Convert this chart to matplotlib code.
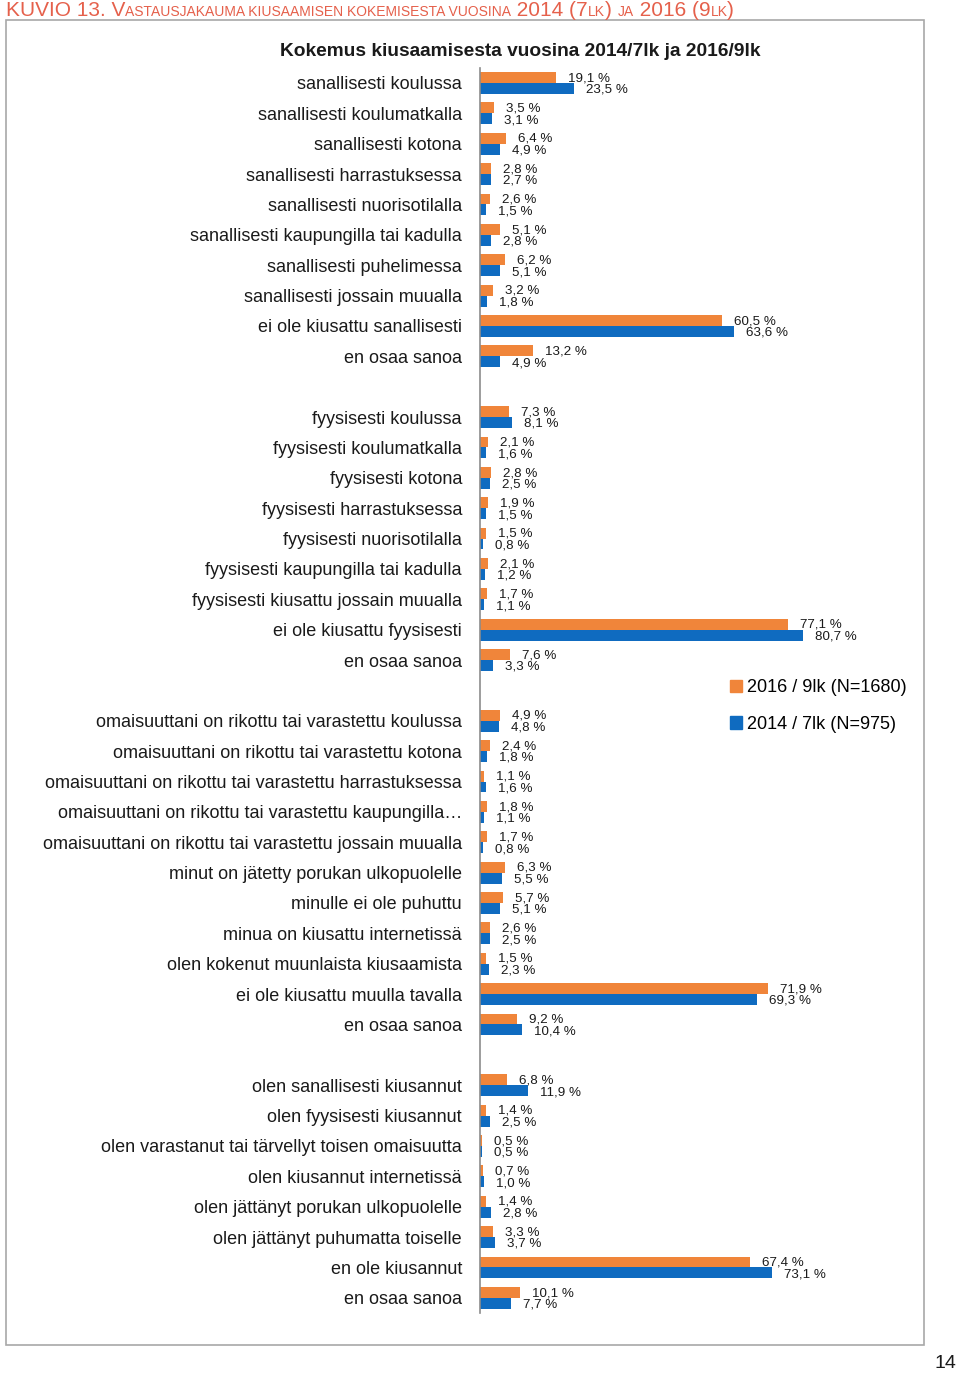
import matplotlib
matplotlib.use('Agg')
import matplotlib.pyplot as plt
from matplotlib.patches import Rectangle, Patch

plt.rcParams['font.family'] = ['Liberation Sans', 'DejaVu Sans']

# ---------------- data ----------------
cats_sanallinen = ["sanallisesti koulussa", "sanallisesti koulumatkalla", "sanallisesti kotona",
                   "sanallisesti harrastuksessa", "sanallisesti nuorisotilalla",
                   "sanallisesti kaupungilla tai kadulla", "sanallisesti puhelimessa",
                   "sanallisesti jossain muualla", "ei ole kiusattu sanallisesti", "en osaa sanoa"]
v2016_sanallinen = [19.1, 3.5, 6.4, 2.8, 2.6, 5.1, 6.2, 3.2, 60.5, 13.2]
v2014_sanallinen = [23.5, 3.1, 4.9, 2.7, 1.5, 2.8, 5.1, 1.8, 63.6, 4.9]

cats_fyysinen = ["fyysisesti koulussa", "fyysisesti koulumatkalla", "fyysisesti kotona",
                 "fyysisesti harrastuksessa", "fyysisesti nuorisotilalla",
                 "fyysisesti kaupungilla tai kadulla", "fyysisesti kiusattu jossain muualla",
                 "ei ole kiusattu fyysisesti", "en osaa sanoa"]
v2016_fyysinen = [7.3, 2.1, 2.8, 1.9, 1.5, 2.1, 1.7, 77.1, 7.6]
v2014_fyysinen = [8.1, 1.6, 2.5, 1.5, 0.8, 1.2, 1.1, 80.7, 3.3]

cats_muu = ["omaisuuttani on rikottu tai varastettu koulussa",
            "omaisuuttani on rikottu tai varastettu kotona",
            "omaisuuttani on rikottu tai varastettu harrastuksessa",
            "omaisuuttani on rikottu tai varastettu kaupungilla…",
            "omaisuuttani on rikottu tai varastettu jossain muualla",
            "minut on jätetty porukan ulkopuolelle", "minulle ei ole puhuttu",
            "minua on kiusattu internetissä", "olen kokenut muunlaista kiusaamista",
            "ei ole kiusattu muulla tavalla", "en osaa sanoa"]
v2016_muu = [4.9, 2.4, 1.1, 1.8, 1.7, 6.3, 5.7, 2.6, 1.5, 71.9, 9.2]
v2014_muu = [4.8, 1.8, 1.6, 1.1, 0.8, 5.5, 5.1, 2.5, 2.3, 69.3, 10.4]

cats_kiusaaja = ["olen sanallisesti kiusannut", "olen fyysisesti kiusannut",
                 "olen varastanut tai tärvellyt toisen omaisuutta", "olen kiusannut internetissä",
                 "olen jättänyt porukan ulkopuolelle", "olen jättänyt puhumatta toiselle",
                 "en ole kiusannut", "en osaa sanoa"]
v2016_kiusaaja = [6.8, 1.4, 0.5, 0.7, 1.4, 3.3, 67.4, 10.1]
v2014_kiusaaja = [11.9, 2.5, 0.5, 1.0, 2.8, 3.7, 73.1, 7.7]

series_labels = ["2016 / 9lk (N=1680)", "2014 / 7lk (N=975)"]
chart_title = "Kokemus kiusaamisesta vuosina 2014/7lk ja 2016/9lk"

groups = [(cats_sanallinen, v2016_sanallinen, v2014_sanallinen),
          (cats_fyysinen, v2016_fyysinen, v2014_fyysinen),
          (cats_muu, v2016_muu, v2014_muu),
          (cats_kiusaaja, v2016_kiusaaja, v2014_kiusaaja)]

ORANGE = '#F0853A'
BLUE = '#0F6BC0'
TXT = '#1a1a1a'

W, H = 960, 1373
fig = plt.figure(figsize=(W / 100, H / 100), dpi=100)

# outer frame
fig.patches.append(Rectangle((6 / W, 1 - 1345 / H), (924 - 6) / W, (1345 - 20) / H,
                             transform=fig.transFigure, fill=False,
                             edgecolor='#A8A8A8', lw=1.2))

ax = fig.add_axes([480 / W, 1 - 1313 / H, 400 / W, (1313 - 67.8) / H])

ys, labels, o_vals, b_vals = [], [], [], []
slot = 0
for gi, (cats, a16, a14) in enumerate(groups):
    if gi > 0:
        slot += 1
    for c, v1, v2 in zip(cats, a16, a14):
        ys.append(slot)
        labels.append(c)
        o_vals.append(v1)
        b_vals.append(v2)
        slot += 1
last = slot - 1

bh = 0.36
ax.barh([y - bh / 2 for y in ys], o_vals, height=bh, color=ORANGE, label=series_labels[0])
ax.barh([y + bh / 2 for y in ys], b_vals, height=bh, color=BLUE, label=series_labels[1])

def fmt(v):
    return f"{v:.1f}".replace('.', ',') + " %"

for y, v1, v2 in zip(ys, o_vals, b_vals):
    ax.annotate(fmt(v1), (v1, y - bh / 2), xytext=(8.6, -0.5), textcoords='offset points',
                ha='left', va='center', fontsize=9.6, color=TXT)
    ax.annotate(fmt(v2), (v2, y + bh / 2), xytext=(8.6, -1.0), textcoords='offset points',
                ha='left', va='center', fontsize=9.6, color=TXT)

ax.set_xlim(0, 100)
ax.set_ylim(last + 0.5, -0.5)
ax.set_yticks(ys)
ax.set_yticklabels(labels, fontsize=13, color=TXT)
ax.tick_params(axis='y', length=0, pad=13)
ax.set_xticks([])
for s in ['top', 'right', 'bottom']:
    ax.spines[s].set_visible(False)
ax.spines['left'].set_color('#8C8C8C')
ax.spines['left'].set_linewidth(1.2)
ax.patch.set_alpha(0)

# chart title
fig.text(520 / W, 1 - 52 / H, chart_title, ha='center', va='center',
         fontsize=13.8, fontweight='bold', color=TXT)

# legend
handles = [Patch(color=ORANGE, label=series_labels[0]), Patch(color=BLUE, label=series_labels[1])]
fig.legend(handles=handles, loc='upper left', bbox_to_anchor=(730 / W, 1 - 679 / H),
           frameon=False, fontsize=13, handlelength=0.65, handleheight=0.65,
           handletextpad=0.3, labelspacing=1.1, borderpad=0, borderaxespad=0)

# page heading with small caps look
RED = '#E5604B'
pieces = [("KUVIO 13. V", 15), ("ASTAUSJAKAUMA KIUSAAMISEN KOKEMISESTA VUOSINA", 10),
          (" 2014 (7", 15), ("LK", 10), (") ", 15), ("JA", 10),
          (" 2016 (9", 15), ("LK", 10), (")", 15)]
renderer = fig.canvas.get_renderer()
x = 6
for s, fs in pieces:
    t = fig.text(x / W, 1 - 16 / H, s, ha='left', va='baseline', fontsize=fs, color=RED)
    bb = t.get_window_extent(renderer=renderer)
    x += bb.width

# page number
fig.text(945 / W, 1 - 1363 / H, "14", ha='center', va='center', fontsize=14, color=TXT)

fig.savefig('out.png', dpi=100)
